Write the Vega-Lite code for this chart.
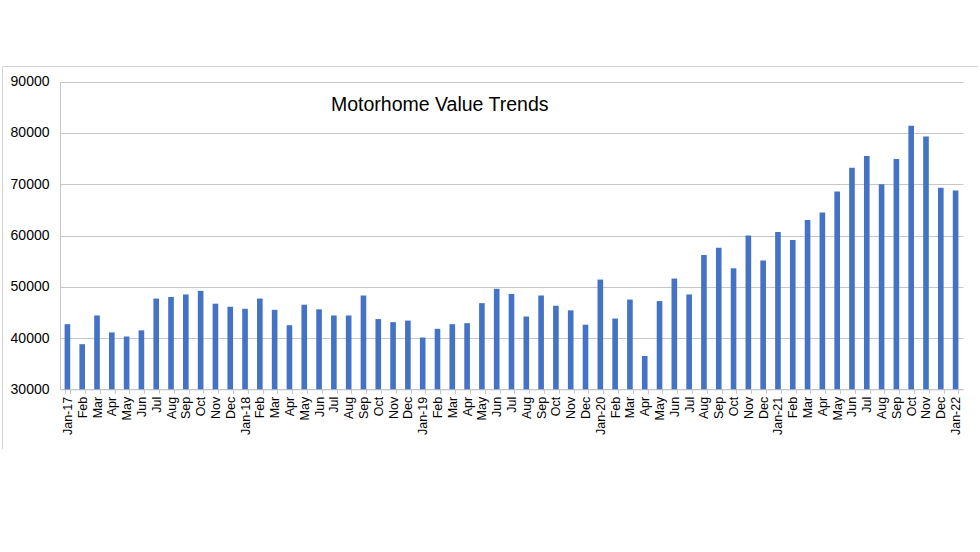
{
  "$schema": "https://vega.github.io/schema/vega-lite/v6.json",
  "autosize": {"type": "none"},
  "padding": {"left": 2, "top": 66, "right": 0, "bottom": 0},
  "width": 976,
  "height": 383,
  "background": "#ffffff",
  "title": {
    "text": "Motorhome Value Trends",
    "anchor": "start",
    "frame": "group",
    "orient": "top",
    "dx": 329,
    "offset": -64,
    "baseline": "alphabetic",
    "font": "Liberation Sans",
    "fontSize": 19.5,
    "fontWeight": "normal",
    "color": "#000000"
  },
  "config": {
    "view": {"stroke": "#d4d4d4", "strokeWidth": 1},
    "axis": {"labelFont": "Liberation Sans", "labelColor": "#000000", "domainColor": "#c6c6c6", "tickColor": "#c6c6c6", "gridColor": "#c6c6c6", "gridWidth": 1}
  },
  "data": {
    "values": [
      {"month": "2017-01-15", "value": 42700},
      {"month": "2017-02-15", "value": 38800},
      {"month": "2017-03-15", "value": 44400},
      {"month": "2017-04-15", "value": 41100},
      {"month": "2017-05-15", "value": 40300},
      {"month": "2017-06-15", "value": 41500},
      {"month": "2017-07-15", "value": 47700},
      {"month": "2017-08-15", "value": 48000},
      {"month": "2017-09-15", "value": 48500},
      {"month": "2017-10-15", "value": 49200},
      {"month": "2017-11-15", "value": 46700},
      {"month": "2017-12-15", "value": 46100},
      {"month": "2018-01-15", "value": 45700},
      {"month": "2018-02-15", "value": 47700},
      {"month": "2018-03-15", "value": 45500},
      {"month": "2018-04-15", "value": 42500},
      {"month": "2018-05-15", "value": 46500},
      {"month": "2018-06-15", "value": 45600},
      {"month": "2018-07-15", "value": 44400},
      {"month": "2018-08-15", "value": 44400},
      {"month": "2018-09-15", "value": 48300},
      {"month": "2018-10-15", "value": 43700},
      {"month": "2018-11-15", "value": 43100},
      {"month": "2018-12-15", "value": 43400},
      {"month": "2019-01-15", "value": 40100},
      {"month": "2019-02-15", "value": 41800},
      {"month": "2019-03-15", "value": 42700},
      {"month": "2019-04-15", "value": 42900},
      {"month": "2019-05-15", "value": 46800},
      {"month": "2019-06-15", "value": 49600},
      {"month": "2019-07-15", "value": 48600},
      {"month": "2019-08-15", "value": 44200},
      {"month": "2019-09-15", "value": 48300},
      {"month": "2019-10-15", "value": 46300},
      {"month": "2019-11-15", "value": 45400},
      {"month": "2019-12-15", "value": 42600},
      {"month": "2020-01-15", "value": 51400},
      {"month": "2020-02-15", "value": 43800},
      {"month": "2020-03-15", "value": 47500},
      {"month": "2020-04-15", "value": 36500},
      {"month": "2020-05-15", "value": 47200},
      {"month": "2020-06-15", "value": 51600},
      {"month": "2020-07-15", "value": 48500},
      {"month": "2020-08-15", "value": 56200},
      {"month": "2020-09-15", "value": 57600},
      {"month": "2020-10-15", "value": 53600},
      {"month": "2020-11-15", "value": 60000},
      {"month": "2020-12-15", "value": 55100},
      {"month": "2021-01-15", "value": 60700},
      {"month": "2021-02-15", "value": 59100},
      {"month": "2021-03-15", "value": 63000},
      {"month": "2021-04-15", "value": 64500},
      {"month": "2021-05-15", "value": 68600},
      {"month": "2021-06-15", "value": 73200},
      {"month": "2021-07-15", "value": 75500},
      {"month": "2021-08-15", "value": 70000},
      {"month": "2021-09-15", "value": 74900},
      {"month": "2021-10-15", "value": 81400},
      {"month": "2021-11-15", "value": 79300},
      {"month": "2021-12-15", "value": 69300},
      {"month": "2022-01-15", "value": 68800}
    ]
  },
  "mark": {"type": "bar", "color": "#4472C4"},
  "encoding": {
    "x": {
      "field": "month",
      "timeUnit": "yearmonth",
      "type": "ordinal",
      "title": null,
      "scale": {"range": [58, 961], "paddingInner": 0.62, "paddingOuter": 0.31},
      "axis": {
        "offset": -59.7,
        "labelAngle": 270,
        "labelAlign": "right",
        "labelBaseline": "middle",
        "labelFontSize": 12.5,
        "labelPadding": 3,
        "tickSize": 4,
        "tickBand": "extent",
        "labelOverlap": false,
        "labelExpr": "month(datum.value) == 0 ? timeFormat(datum.value, '%b-%y') : timeFormat(datum.value, '%b')"
      }
    },
    "y": {
      "field": "value",
      "type": "quantitative",
      "title": null,
      "scale": {"domain": [30000, 90000], "zero": false, "nice": false, "range": [323.3, 15.7]},
      "axis": {
        "offset": -58,
        "values": [30000, 40000, 50000, 60000, 70000, 80000, 90000],
        "format": "d",
        "ticks": false,
        "labelPadding": 11,
        "labelFontSize": 14,
        "grid": true
      }
    },
    "y2": {"datum": 30000}
  }
}
